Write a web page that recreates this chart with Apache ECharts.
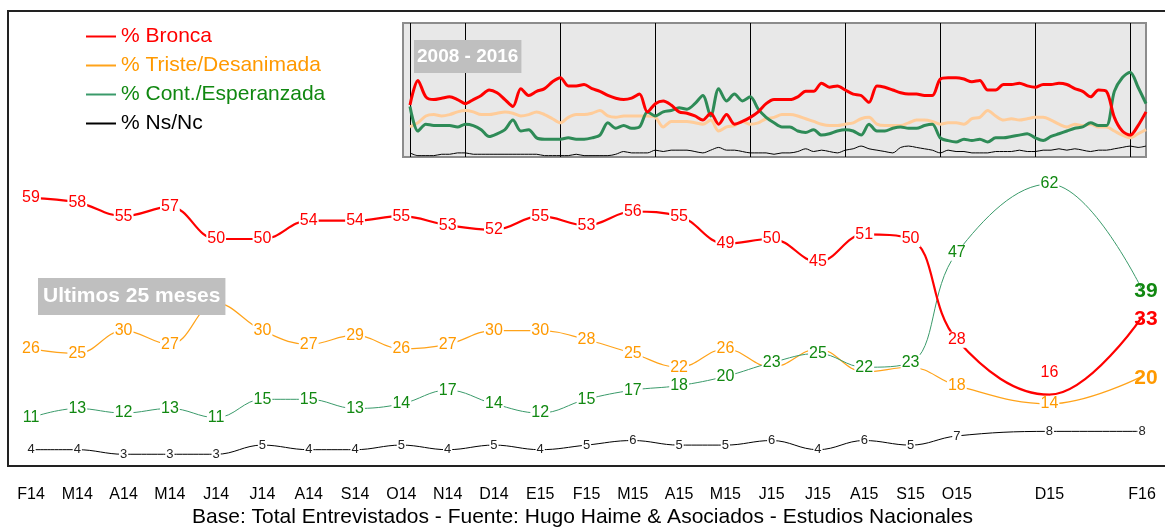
<!DOCTYPE html>
<html>
<head>
<meta charset="utf-8">
<title>Estado de ánimo</title>
<script src="https://cdn.jsdelivr.net/npm/echarts@6/dist/echarts.min.js"></script>
<style>
  html, body { margin: 0; padding: 0; background: #fff; }
  #chart { width: 1165px; height: 529px; }
</style>
</head>
<body>
<div id="chart"></div>

<script type="text/javascript">
// ultimos 25 meses (N15 y E16 sin medicion)
var meses = ['F14','M14','A14','M14','J14','J14','A14','S14','O14','N14','D14','E15','F15','M15','A15','M15','J15','J15','A15','S15','O15','','D15','','F16'];
var bronca    = [59,58,55,57,50,50,54,54,55,53,52,55,53,56,55,49,50,45,51,50,28,null,16,null,33];
var triste    = [26,25,30,27,36,30,27,29,26,27,30,30,28,25,22,26,22,26,21,22,18,null,14,null,20];
var esperanza = [11,13,12,13,11,15,15,13,14,17,14,12,15,17,18,20,23,25,22,23,47,null,62,null,39];
var nsnc      = [4,4,3,3,3,5,4,4,5,4,5,4,5,6,5,5,6,4,6,5,7,null,8,null,8];

// etiquetas de triste que quedan tapadas
var tristeSinEtiqueta = [4, 16, 17, 18, 19];

// serie historica 2008 - 2016 (cuadro chico)
var insetBronca = [
  38,56,44,42,43,44,42,39,42,45,
  49,47,42,37,50,45,48,50,55,58,
  52,52,53,50,48,45,43,42,43,46,
  33,39,41,38,33,32,30,27,32,24,
  31,24,26,29,33,39,42,42,42,44,
  48,48,54,51,52,49,46,45,40,52,
  51,49,47,46,46,45,45,57,58,58,
  57,55,56,49,49,53,53,54,52,51,
  53,53,54,53,50,48,44,49,48,29,
  19,16,23,33];
var insetTriste = [
  22,25,30,31,30,31,33,34,33,31,
  31,32,33,32,30,31,33,31,28,25,
  29,31,31,32,34,30,29,30,30,30,
  30,29,22,26,26,26,25,24,27,19,
  22,23,26,24,25,28,29,31,31,30,
  28,26,24,23,23,24,25,28,29,24,
  23,23,23,25,27,27,26,24,25,25,
  24,28,29,34,30,27,28,27,28,29,
  29,27,24,22,24,23,24,22,22,19,
  16,14,17,20];
var insetEsperanza = [
  37,19,24,23,23,23,22,24,23,20,
  15,17,20,27,19,20,14,13,13,13,
  14,13,13,14,16,25,21,23,21,22,
  33,30,33,34,36,35,39,45,30,50,
  41,46,41,44,35,29,25,22,22,19,
  18,20,16,17,19,20,19,16,24,19,
  19,21,22,21,21,23,24,14,12,11,
  13,12,13,11,14,14,15,16,17,14,
  12,15,17,19,21,22,25,23,23,48,
  58,62,51,39];
var insetNsNc = [
  3,1,1,1,2,2,3,3,2,2,
  2,2,2,2,2,2,2,1,1,1,
  1,2,1,1,1,1,2,4,3,3,
  3,5,4,5,5,5,4,3,5,7,
  5,5,4,3,3,3,2,3,3,4,
  6,4,5,4,3,5,6,8,6,5,
  4,3,7,8,7,6,5,3,5,4,
  4,3,3,3,4,4,4,5,4,4,
  5,5,6,5,6,5,4,5,5,6,
  7,8,7,8];
// comienzo de cada año en la serie historica
var insetAnios = [0, 7, 19, 31, 43, 55, 67, 79, 91];
var insetPuntos = insetBronca.map(function (v, i) { return String(i); });

var fuente = 'Base: Total Entrevistados - Fuente: Hugo Haime & Asociados - Estudios Nacionales';

var ultimo = meses.length - 1;

function armarDatos(valores, opciones) {
  opciones = opciones || {};
  return valores.map(function (v, i) {
    if (v === null) return null;
    var item = { value: v };
    if (opciones.ocultar && opciones.ocultar.indexOf(i) >= 0) {
      item.label = { show: false };
    }
    if (opciones.arriba && opciones.arriba.indexOf(i) >= 0) {
      item.label = { position: 'top', distance: 14, backgroundColor: 'transparent' };
    }
    if (opciones.negrita && i === ultimo) {
      item.label = { fontSize: 21, fontWeight: 'bold', offset: [4, 2], backgroundColor: 'transparent' };
    }
    return item;
  });
}

function etiqueta(color, size) {
  return {
    show: true,
    position: 'inside',
    color: color,
    fontSize: size,
    backgroundColor: '#fff',
    padding: [0, 1]
  };
}

var myChart = echarts.init(document.getElementById('chart'));

var option = {
  animation: false,
  textStyle: { fontFamily: 'Liberation Sans, Arial, sans-serif' },
  title: [
    {
      text: 'Ultimos 25 meses',
      left: 38, top: 278,
      backgroundColor: '#bfbfbf',
      padding: [8, 5, 8, 5],
      textStyle: { color: '#fff', fontSize: 21, fontWeight: 'bold' }
    },
    {
      text: '2008 - 2016',
      left: 414, top: 40,
      backgroundColor: '#bfbfbf',
      padding: [7, 3, 7, 3],
      textStyle: { color: '#fff', fontSize: 19, fontWeight: 'bold' }
    },
    {
      text: fuente,
      left: 'center', top: 507,
      padding: 0,
      textStyle: { color: '#000', fontSize: 21, fontWeight: 'normal' }
    }
  ],
  legend: {
    orient: 'vertical',
    left: 80, top: 21,
    itemWidth: 30, itemHeight: 3,
    itemGap: 8,
    selectedMode: false,
    itemStyle: { opacity: 0 },
    textStyle: { fontSize: 21 },
    data: [
      { name: '% Bronca', textStyle: { color: '#ff0000' } },
      { name: '% Triste/Desanimada', textStyle: { color: '#ff9900' } },
      { name: '% Cont./Esperanzada', textStyle: { color: '#118811' } },
      { name: '% Ns/Nc', textStyle: { color: '#000' } }
    ]
  },
  graphic: [
    {
      type: 'rect', z: -10,
      shape: { x: 8, y: 11, width: 1170, height: 455 },
      style: { fill: 'none', stroke: '#222', lineWidth: 2 }
    },
    {
      type: 'rect', z: -5,
      shape: { x: 403, y: 23, width: 743, height: 134 },
      style: { fill: '#e8e8e8', stroke: '#8c8c8c', lineWidth: 2 }
    }
  ],
  grid: [
    { left: 31, right: 23, top: 10, bottom: 61 },
    { left: 410, right: 19, top: 23, bottom: 372 }
  ],
  xAxis: [
    {
      type: 'category', gridIndex: 0,
      data: meses,
      boundaryGap: false,
      axisLine: { show: false },
      axisTick: { show: false },
      axisLabel: { interval: 0, margin: 19, fontSize: 16, color: '#000' }
    },
    {
      type: 'category', gridIndex: 1,
      data: insetPuntos,
      boundaryGap: false,
      axisLine: { show: false },
      axisTick: { show: false },
      axisLabel: { show: false },
      splitLine: {
        show: true,
        interval: function (index) { return insetAnios.indexOf(index) >= 0; },
        lineStyle: { color: '#000', width: 1 }
      }
    }
  ],
  yAxis: [
    { type: 'value', gridIndex: 0, min: 0, max: 100, show: false },
    { type: 'value', gridIndex: 1, min: 0, max: 98, show: false }
  ],
  series: [
    {
      name: '% Ns/Nc', type: 'line',
      xAxisIndex: 0, yAxisIndex: 0,
      data: armarDatos(nsnc),
      connectNulls: true, smooth: 0.4,
      symbol: 'circle', symbolSize: 1,
      itemStyle: { color: '#000' },
      lineStyle: { color: '#000', width: 1 },
      label: etiqueta('#222', 13)
    },
    {
      name: '% Triste/Desanimada', type: 'line',
      xAxisIndex: 0, yAxisIndex: 0,
      data: armarDatos(triste, { ocultar: tristeSinEtiqueta, negrita: true }),
      connectNulls: true, smooth: 0.4,
      symbol: 'circle', symbolSize: 1,
      itemStyle: { color: '#ffa31a' },
      lineStyle: { color: '#ffa31a', width: 1.2 },
      label: etiqueta('#ff9900', 16)
    },
    {
      name: '% Cont./Esperanzada', type: 'line',
      xAxisIndex: 0, yAxisIndex: 0,
      data: armarDatos(esperanza, { negrita: true }),
      connectNulls: true, smooth: 0.4,
      symbol: 'circle', symbolSize: 1,
      itemStyle: { color: '#3a9a6a' },
      lineStyle: { color: '#3a9a6a', width: 1 },
      label: etiqueta('#118811', 16)
    },
    {
      name: '% Bronca', type: 'line',
      xAxisIndex: 0, yAxisIndex: 0,
      data: armarDatos(bronca, { arriba: [22], negrita: true }),
      connectNulls: true, smooth: 0.4,
      symbol: 'circle', symbolSize: 1,
      itemStyle: { color: '#ff0000' },
      lineStyle: { color: '#ff0000', width: 2.2 },
      label: etiqueta('#ff0000', 16)
    },
    {
      name: 'hist Ns/Nc', type: 'line',
      xAxisIndex: 1, yAxisIndex: 1,
      data: insetNsNc, smooth: 0.3, symbol: 'none', silent: true,
      lineStyle: { color: '#000', width: 1 }
    },
    {
      name: 'hist Triste', type: 'line',
      xAxisIndex: 1, yAxisIndex: 1,
      data: insetTriste, smooth: 0.3, symbol: 'none', silent: true,
      lineStyle: { color: '#ffcc99', width: 3 }
    },
    {
      name: 'hist Esperanza', type: 'line',
      xAxisIndex: 1, yAxisIndex: 1,
      data: insetEsperanza, smooth: 0.3, symbol: 'none', silent: true,
      lineStyle: { color: '#2e8b57', width: 3 }
    },
    {
      name: 'hist Bronca', type: 'line',
      xAxisIndex: 1, yAxisIndex: 1,
      data: insetBronca, smooth: 0.3, symbol: 'none', silent: true,
      lineStyle: { color: '#ff0000', width: 3 }
    }
  ]
};

myChart.setOption(option);
</script>
</body>
</html>
